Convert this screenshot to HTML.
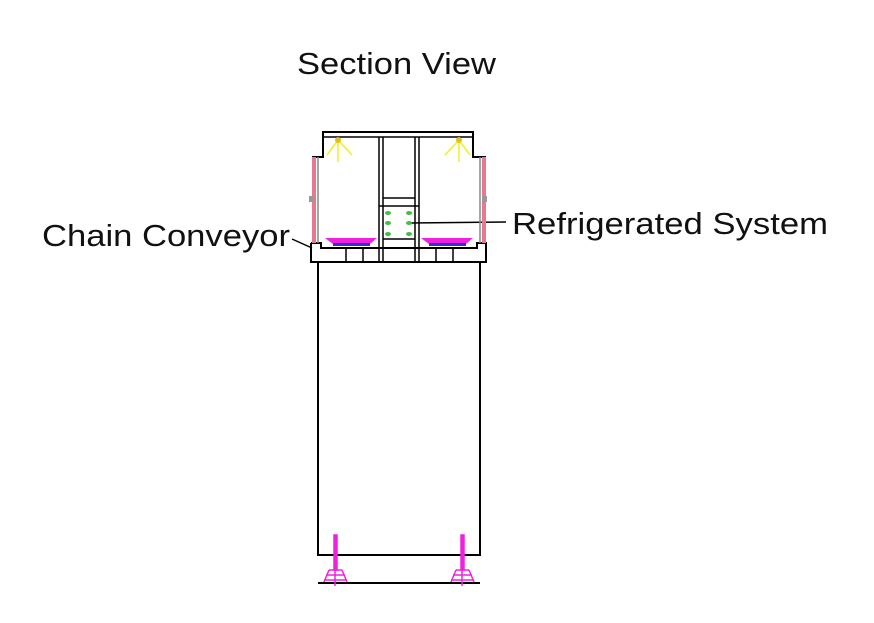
<!DOCTYPE html>
<html><head><style>html,body{margin:0;padding:0;background:#fff;}svg{display:block}</style></head>
<body>
<svg width="874" height="623" viewBox="0 0 874 623" xmlns="http://www.w3.org/2000/svg">
<g font-family="Liberation Sans, sans-serif" font-size="31" fill="#111">
<text x="297" y="74" textLength="199" lengthAdjust="spacingAndGlyphs">Section View</text>
<text x="42" y="246" textLength="248" lengthAdjust="spacingAndGlyphs">Chain Conveyor</text>
<text x="512" y="234" textLength="316" lengthAdjust="spacingAndGlyphs">Refrigerated System</text>
</g>
<g stroke="#000" fill="none" stroke-width="1.5">
<line x1="292" y1="239" x2="312" y2="248"/>
<line x1="410" y1="223" x2="506" y2="222"/>
<!-- top frame -->
<polyline points="312,157 323,157 323,132 473,132 473,157 486,157" stroke-width="2"/>
<line x1="323" y1="137" x2="473" y2="137"/>
<!-- central column -->
<line x1="379" y1="137" x2="379" y2="262"/>
<line x1="383" y1="137" x2="383" y2="262"/>
<line x1="415" y1="137" x2="415" y2="262"/>
<line x1="419" y1="137" x2="419" y2="262"/>
<line x1="383" y1="198" x2="415" y2="198"/>
<line x1="379" y1="206" x2="419" y2="206"/>
<line x1="383" y1="239" x2="415" y2="239"/>
<line x1="383" y1="248" x2="415" y2="248" stroke-width="2"/>
<!-- base -->
<polyline points="311,243 311,262 486,262 486,243 477,243 477,248 321,248 321,243 311,243" stroke-width="2"/>
<rect x="346" y="248" width="17" height="14"/>
<rect x="436" y="248" width="17" height="14"/>
<!-- body -->
<rect x="318" y="262" width="162" height="293" stroke-width="2"/>
<line x1="318" y1="583" x2="480" y2="583" stroke-width="2"/>
</g>
<!-- side posts -->
<rect x="312" y="157" width="4" height="86" fill="#e87890"/>
<rect x="482" y="157" width="4" height="86" fill="#e87890"/>
<line x1="318" y1="157" x2="318" y2="243" stroke="#888" stroke-width="1.5"/>
<line x1="480" y1="157" x2="480" y2="243" stroke="#888" stroke-width="1.5"/>
<rect x="309" y="196" width="5" height="6" fill="#999"/>
<rect x="482" y="196" width="5" height="6" fill="#999"/>
<!-- trays -->
<path d="M325,238 L377,238 L370,244 L333,244 Z" fill="#f020e0"/>
<path d="M421,238 L473,238 L466,244 L429,244 Z" fill="#f020e0"/>
<rect x="333" y="243" width="37" height="3" fill="#3030d0"/>
<rect x="429" y="243" width="37" height="3" fill="#3030d0"/>
<!-- lights -->
<g stroke="#f0f020" stroke-width="1.5">
<line x1="338" y1="140" x2="327" y2="155"/><line x1="338" y1="140" x2="338" y2="162"/><line x1="338" y1="140" x2="352" y2="155"/>
<line x1="459" y1="140" x2="445" y2="155"/><line x1="459" y1="140" x2="459" y2="162"/><line x1="459" y1="140" x2="470" y2="155"/>
</g>
<circle cx="338" cy="140" r="3" fill="#e0c020"/>
<circle cx="459" cy="140" r="3" fill="#e0c020"/>
<!-- coils -->
<g fill="#40c040">
<ellipse cx="388" cy="213" rx="3" ry="2"/><ellipse cx="388" cy="223" rx="3" ry="2"/><ellipse cx="388" cy="234" rx="3" ry="2"/>
<ellipse cx="409" cy="213" rx="3" ry="2"/><ellipse cx="409" cy="223" rx="3" ry="2"/><ellipse cx="409" cy="234" rx="3" ry="2"/>
</g>
<!-- feet -->
<g stroke="#f020e0" fill="none" stroke-width="1.5">
<rect x="334" y="535" width="3" height="35" fill="#f020e0"/>
<rect x="461" y="535" width="3" height="35" fill="#f020e0"/>
<path d="M329,570 h13 M326,575 h19 M324,580 h23 M335,570 v16 M329,570 l-5,12 M342,570 l5,12"/>
<path d="M456,570 h13 M453,575 h19 M451,580 h23 M462,570 v16 M456,570 l-5,12 M469,570 l5,12"/>
</g>
</svg>
</body></html>
